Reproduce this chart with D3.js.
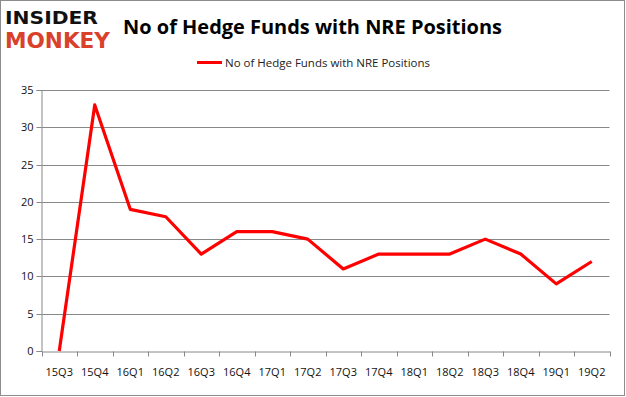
<!DOCTYPE html>
<html><head><meta charset="utf-8">
<script src="https://cdn.jsdelivr.net/npm/d3@7/dist/d3.min.js"></script>
<style>body{margin:0;background:#fff}svg{display:block}</style>
</head><body>
<svg id="c" width="626" height="397"></svg>
<script>
const categories = ["15Q3","15Q4","16Q1","16Q2","16Q3","16Q4","17Q1","17Q2","17Q3","17Q4","18Q1","18Q2","18Q3","18Q4","19Q1","19Q2"];
const values = [0,33,19,18,13,16,16,15,11,13,13,13,15,13,9,12];
const yTicks = [0,5,10,15,20,25,30,35];
const seriesName = "No of Hedge Funds with NRE Positions";
const title = "No of Hedge Funds with NRE Positions";

(function(){
const svg = d3.select("#c");
svg.append("rect").attr("x",0.5).attr("y",0.5).attr("width",624).attr("height",395)
  .attr("fill","#fff").attr("stroke","#8c8c8c");

const pL = 41.5, pR = 609.5, pT = 90, pB = 351;
const x = d3.scaleBand().domain(categories).range([pL,pR]);
const y = d3.scaleLinear().domain([0,35]).range([pB,pT]);

// gridlines
svg.append("g").selectAll("line").data(yTicks.filter(d=>d>0)).join("line")
  .attr("x1",pL).attr("x2",pR).attr("y1",d=>Math.round(y(d))+0.5).attr("y2",d=>Math.round(y(d))+0.5)
  .attr("stroke","#888").attr("stroke-width",1);

// y axis
const ya = svg.append("g").attr("transform",`translate(${pL},0)`)
  .call(d3.axisLeft(y).tickValues(yTicks).tickSize(5).tickPadding(3));
ya.select(".domain").attr("stroke","#888");
ya.selectAll(".tick line").attr("stroke","#888");
ya.selectAll(".tick").attr("transform",d=>`translate(0,${Math.round(y(d))+0.5})`);
ya.selectAll("text").attr("font-family","'Open Sans', 'DejaVu Sans', sans-serif").attr("font-size","11px").attr("fill","#111");

// x axis
const xa = svg.append("g").attr("transform",`translate(0,${pB+0.5})`)
  .call(d3.axisBottom(x).tickSize(0).tickPadding(17));
xa.select(".domain").attr("stroke","#888");
xa.selectAll("text").attr("font-family","'Open Sans', 'DejaVu Sans', sans-serif").attr("font-size","11px").attr("fill","#111");
const bounds = categories.map(c=>x(c)).concat([pR]);
xa.append("g").selectAll("line").data(bounds).join("line")
  .attr("x1",d=>Math.round(d)+0.5).attr("x2",d=>Math.round(d)+0.5).attr("y1",0).attr("y2",5).attr("stroke","#888");

// line
const line = d3.line().x((d,i)=>x(categories[i])+x.bandwidth()/2).y(d=>y(d));
svg.append("path").datum(values).attr("d",line).attr("fill","none")
  .attr("stroke","#ff0000").attr("stroke-width",3.2).attr("stroke-linejoin","round");

// title
svg.append("text").attr("x",123).attr("y",34).text(title)
  .attr("font-family","'Open Sans', 'Liberation Sans', sans-serif").attr("font-weight","bold")
  .attr("font-size","19px").attr("fill","#000").attr("textLength",379).attr("lengthAdjust","spacingAndGlyphs");

// legend
svg.append("line").attr("x1",197).attr("x2",222).attr("y1",62.5).attr("y2",62.5).attr("stroke","#ff0000").attr("stroke-width",3);
svg.append("text").attr("x",225).attr("y",66.5).text(seriesName)
  .attr("font-family","'Open Sans', 'DejaVu Sans', sans-serif").attr("font-size","11px").attr("fill","#222")
  .attr("textLength",205).attr("lengthAdjust","spacingAndGlyphs");

// logo
svg.append("text").attr("x",5).attr("y",24).text("INSIDER")
  .attr("font-family","'DejaVu Sans', sans-serif").attr("font-weight","bold").attr("font-size","18px")
  .attr("fill","#111").attr("textLength",93).attr("lengthAdjust","spacingAndGlyphs");
svg.append("text").attr("x",5).attr("y",48).text("MONKEY")
  .attr("font-family","'DejaVu Sans', sans-serif").attr("font-weight","bold").attr("font-size","22px")
  .attr("fill","#d9412b").attr("textLength",105).attr("lengthAdjust","spacingAndGlyphs");
})();
</script>
</body></html>
